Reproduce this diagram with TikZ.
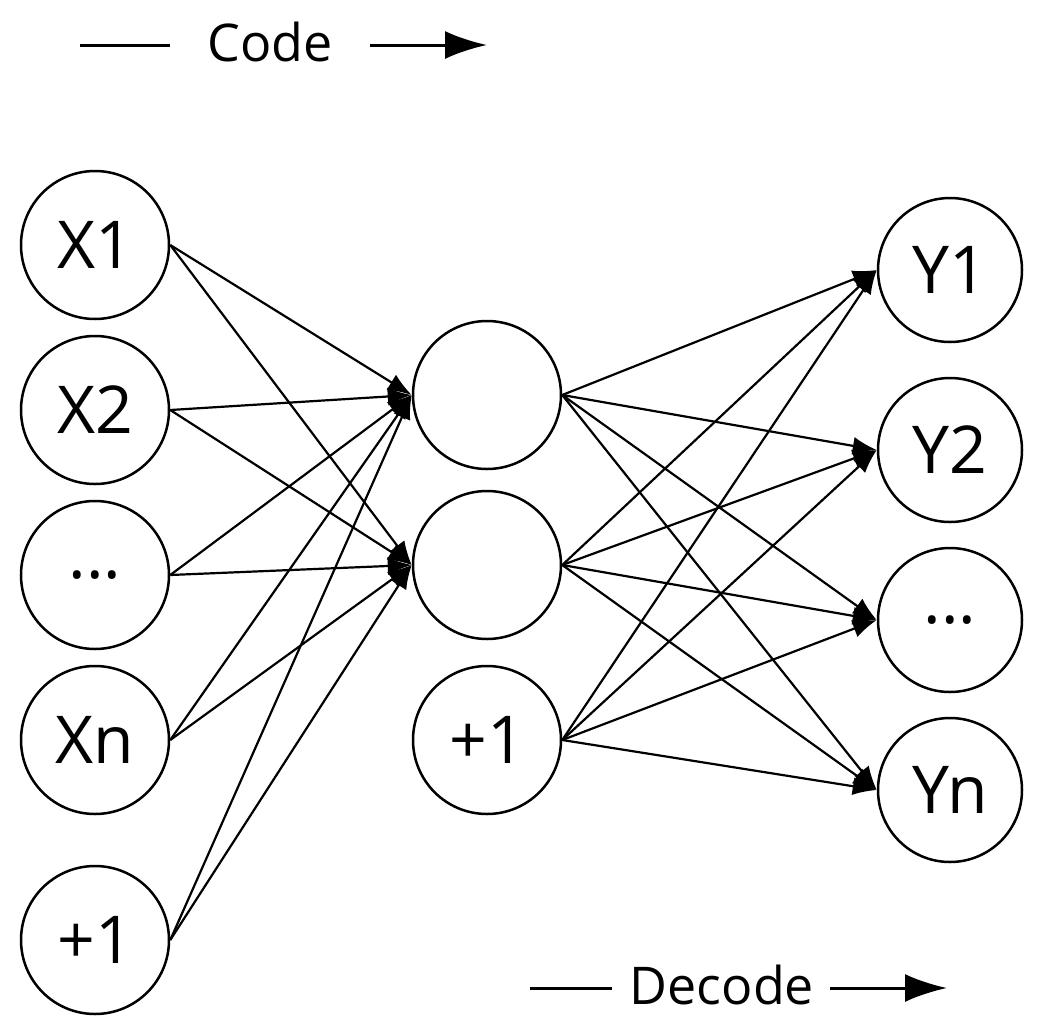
\documentclass[tikz,border=0pt]{standalone}
\usepackage{fontspec}
\setmainfont{Open Sans}
\usetikzlibrary{arrows.meta}
\begin{document}
\begin{tikzpicture}[x=1pt,y=-1pt,
  n/.style={circle,draw,line width=2.5pt,minimum size=148pt,inner sep=0pt,font=\fontsize{66}{68}\selectfont},
  r/.style={circle,draw,line width=2.5pt,minimum size=144pt,inner sep=0pt,font=\fontsize{66}{68}\selectfont},
  e/.style={line width=2.2pt,-{Latex[length=24pt,width=18pt]}},
  lab/.style={font=\fontsize{52}{54}\selectfont}]
\useasboundingbox (0,0) rectangle (1037,1034);
\node[n] (x1) at (95,245) {X1};
\node[n] (x2) at (95,410) {X2};
\node[n] (x3) at (95,575) {...};
\node[n] (xn) at (95,740) {Xn};
\node[n] (xb) at (95,940) {+1};
\node[n] (h1) at (487,395) {};
\node[n] (h2) at (487,565) {};
\node[n] (hb) at (487,740) {+1};
\node[r] (y1) at (950,270) {Y1};
\node[r] (y2) at (950,450) {Y2};
\node[r] (y3) at (950,620) {...};
\node[r] (yn) at (950,790) {Yn};
\foreach \a in {x1,x2,x3,xn,xb}{
  \foreach \b in {h1,h2}{\draw[e] (\a.east) -- (\b.west);}}
\foreach \a in {h1,h2,hb}{
  \foreach \b in {y1,y2,y3,yn}{\draw[e] (\a.east) -- (\b.west);}}
\coordinate (c0) at (80,45); \coordinate (c1) at (170,45);
\coordinate (c2) at (370,45); \coordinate (c3) at (487,45);
\draw[line width=3pt] (c0) -- (c1);
\node[lab] (code) at (270,42) {Code};
\draw[line width=3pt,-{Latex[length=42pt,width=28pt]}] (c2) -- (c3);
\coordinate (d0) at (530,988); \coordinate (d1) at (612,988);
\coordinate (d2) at (830,988); \coordinate (d3) at (947,988);
\draw[line width=3pt] (d0) -- (d1);
\node[lab] (decode) at (722,985) {Decode};
\draw[line width=3pt,-{Latex[length=42pt,width=28pt]}] (d2) -- (d3);
\end{tikzpicture}
\end{document}
